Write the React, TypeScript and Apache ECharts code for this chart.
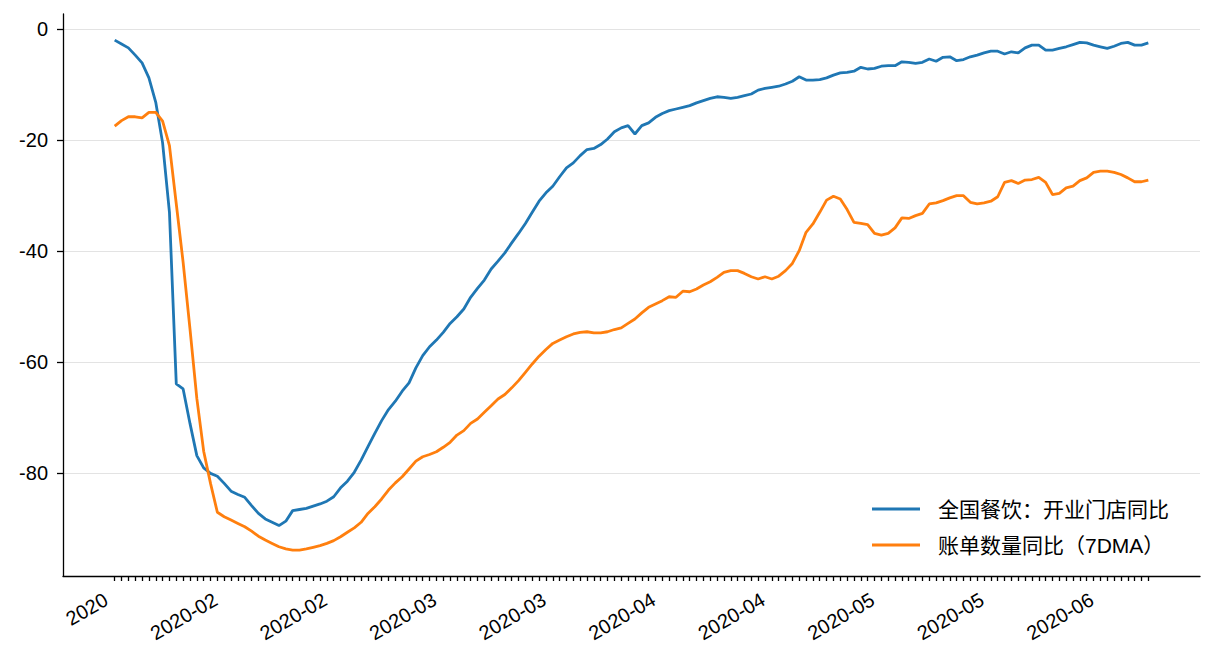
import React, { useEffect, useRef } from 'react';
import * as echarts from 'echarts';

// 全国餐饮：开业门店同比 (daily points)
const blue = [
  -2.0, -2.7, -3.4, -4.7, -6.1, -8.8, -13.2, -20.5, -33.0, -63.9,
  -64.8, -71.0, -76.8, -79.0, -80.0, -80.5, -81.8, -83.2, -83.8, -84.3,
  -85.8, -87.2, -88.2, -88.8, -89.4, -88.6, -86.7, -86.5, -86.3, -85.9,
  -85.5, -85.0, -84.2, -82.6, -81.4, -79.8, -77.6, -75.2, -72.8, -70.5,
  -68.5, -67.0, -65.2, -63.7, -61.0, -58.8, -57.2, -56.0, -54.6, -53.0,
  -51.8, -50.4, -48.3, -46.7, -45.2, -43.2, -41.8, -40.3, -38.5, -36.8,
  -35.0, -33.0, -31.0, -29.5, -28.3, -26.6, -25.0, -24.1, -22.8, -21.7,
  -21.5, -20.8, -19.8, -18.5, -17.8, -17.4, -18.9, -17.4, -16.9, -15.9,
  -15.2, -14.7, -14.4, -14.1, -13.8, -13.3, -12.9, -12.5, -12.2, -12.3,
  -12.5, -12.3, -12.0, -11.7, -11.0, -10.7, -10.5, -10.3, -9.9, -9.4,
  -8.6, -9.2, -9.2, -9.1, -8.8, -8.3, -7.9, -7.8, -7.6, -6.9,
  -7.2, -7.1, -6.7, -6.6, -6.6, -5.9, -6.0, -6.2, -6.0, -5.4,
  -5.8, -5.1, -5.0, -5.7, -5.5, -5.0, -4.7, -4.3, -4.0, -4.0,
  -4.5, -4.1, -4.3, -3.4, -2.9, -2.9, -3.8, -3.8, -3.5, -3.2,
  -2.8, -2.4, -2.5, -2.9, -3.2, -3.5, -3.1, -2.6, -2.4, -2.9,
  -2.9, -2.5,
];

// 账单数量同比（7DMA）
const orange = [
  -17.5, -16.5, -15.8, -15.8, -16.0, -15.0, -15.0, -16.6, -21.0, -31.5,
  -42.0, -54.0, -66.5, -76.0, -81.8, -87.0, -87.8, -88.4, -89.0, -89.6,
  -90.4, -91.3, -92.0, -92.6, -93.2, -93.6, -93.8, -93.8, -93.6, -93.3,
  -93.0, -92.6, -92.1, -91.4, -90.6, -89.8, -88.8, -87.2, -86.0, -84.6,
  -83.0, -81.7, -80.6, -79.2, -77.8, -77.0, -76.6, -76.1, -75.3, -74.4,
  -73.1, -72.3, -71.0, -70.2, -69.0, -67.8, -66.6, -65.8, -64.6, -63.3,
  -61.8, -60.3, -58.9, -57.7, -56.6, -56.0, -55.4, -54.9, -54.6, -54.5,
  -54.7, -54.7, -54.5, -54.1, -53.8, -53.0, -52.2, -51.1, -50.1, -49.5,
  -48.9, -48.2, -48.3, -47.2, -47.3, -46.8, -46.1, -45.5, -44.7, -43.8,
  -43.5, -43.5, -44.0, -44.6, -45.0, -44.6, -45.0, -44.5, -43.5, -42.2,
  -39.9, -36.6, -35.1, -33.0, -30.8, -30.1, -30.6, -32.5, -34.8, -35.0,
  -35.2, -36.8, -37.1, -36.8, -35.8, -34.0, -34.1, -33.6, -33.2, -31.5,
  -31.3, -30.9, -30.4, -30.0, -30.0, -31.2, -31.5, -31.3, -31.0, -30.2,
  -27.6, -27.3, -27.8, -27.2, -27.1, -26.7, -27.6, -29.8, -29.6, -28.6,
  -28.3, -27.3, -26.8, -25.8, -25.6, -25.6, -25.8, -26.2, -26.8, -27.5,
  -27.5, -27.2,
];

const seriesNames = ['全国餐饮：开业门店同比', '账单数量同比（7DMA）'];
const seriesColors = ['#1f77b4', '#ff7f0e'];
const tickLabels = [
  '2020', '2020-02', '2020-02', '2020-03', '2020-03',
  '2020-04', '2020-04', '2020-05', '2020-05', '2020-06',
];
const labelStep = 16;
const yTicks = [-80, -60, -40, -20, 0];

const FONT = '"Liberation Sans", Arial, "Noto Sans CJK SC", sans-serif';

export default function App() {
  const ref = useRef<HTMLDivElement>(null);

  useEffect(() => {
    if (!ref.current) return;
    const chart = echarts.init(ref.current, null, { renderer: 'svg' });
    const days = blue.map((_, i) => i);
    const labelPos = tickLabels.map((_, k) => k * labelStep);

    chart.setOption({
      animation: false,
      backgroundColor: '#ffffff',
      grid: { left: 63, top: 14, width: 1137, height: 562 },
      legend: {
        show: true,
        orient: 'vertical',
        left: 872,
        top: 498,
        padding: 0,
        itemWidth: 48,
        itemHeight: 3,
        itemGap: 14,
        icon: 'rect',
        data: seriesNames,
        textStyle: {
          fontSize: 21,
          lineHeight: 22,
          color: '#000',
          fontFamily: FONT,
          padding: [0, 0, 0, 13],
        },
      },
      xAxis: {
        type: 'value',
        min: -7.55,
        max: 158.55,
        axisLine: { show: true, onZero: false, lineStyle: { color: '#000', width: 1.3 } },
        axisTick: {
          show: true,
          customValues: days,
          length: 5,
          lineStyle: { color: '#000', width: 1.3 },
        },
        axisLabel: {
          show: true,
          customValues: labelPos,
          formatter: (v: number) => tickLabels[Math.round(v / labelStep)] ?? '',
          rotate: 30,
          fontSize: 20,
          color: '#000',
          fontFamily: FONT,
          margin: 17,
          padding: [0, 10, 0, 0],
        },
        splitLine: { show: false },
      },
      yAxis: {
        type: 'value',
        min: -98.47,
        max: 2.7,
        axisLine: { show: true, onZero: false, lineStyle: { color: '#000', width: 1.3 } },
        axisTick: {
          show: true,
          customValues: yTicks,
          length: 6,
          lineStyle: { color: '#000', width: 1.3 },
        },
        axisLabel: {
          show: true,
          customValues: yTicks,
          formatter: (v: number) => String(v),
          fontSize: 20,
          color: '#000',
          fontFamily: FONT,
          margin: 15,
        },
        splitLine: { show: true, lineStyle: { color: '#e3e3e3', width: 1.2 } },
      },
      series: [
        {
          name: seriesNames[0],
          type: 'line',
          data: blue.map((v, i) => [days[i], v]),
          symbol: 'none',
          lineStyle: { color: seriesColors[0], width: 2.8 },
          itemStyle: { color: seriesColors[0] },
          z: 2,
        },
        {
          name: seriesNames[1],
          type: 'line',
          data: orange.map((v, i) => [days[i], v]),
          symbol: 'none',
          lineStyle: { color: seriesColors[1], width: 2.8 },
          itemStyle: { color: seriesColors[1] },
          z: 3,
        },
      ],
    });

    return () => chart.dispose();
  }, []);

  return (
    <div
      ref={ref}
      style={{ position: 'fixed', left: 0, top: 0, width: 1216, height: 672, background: '#fff' }}
    />
  );
}
